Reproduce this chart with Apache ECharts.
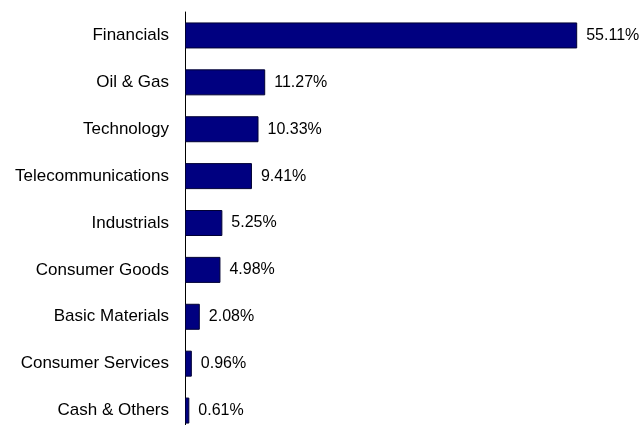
<!DOCTYPE html>
<html><head><meta charset="utf-8">
<script src="https://cdn.jsdelivr.net/npm/echarts@6/dist/echarts.min.js"></script>
<style>html,body{margin:0;padding:0;background:#fff;overflow:hidden;width:641px;height:425px}#c{width:641px;height:440px}</style>
</head><body><div id="c"></div>
<script>
const categories = ["Financials","Oil & Gas","Technology","Telecommunications","Industrials","Consumer Goods","Basic Materials","Consumer Services","Cash & Others"];
const values = [55.11,11.27,10.33,9.41,5.25,4.98,2.08,0.96,0.61];

const chart = echarts.init(document.getElementById('c'));
chart.setOption({
  animation:false,
  grid:{left:185,top:12,width:427,height:422},
  xAxis:{type:'value',min:0,max:60,show:false},
  yAxis:{type:'category',inverse:true,data:categories,
    axisLine:{show:true,lineStyle:{color:'#000',width:1}},
    axisTick:{show:false},
    axisLabel:{color:'#000',fontFamily:'Liberation Sans, Arial, sans-serif',fontSize:17,margin:16}},
  series:[{type:'bar',data:values,barWidth:26,
    itemStyle:{color:'#000080',borderColor:'#000033',borderWidth:1},
    label:{show:true,position:'right',distance:9,color:'#000',fontFamily:'Liberation Sans, Arial, sans-serif',fontSize:16,
      formatter:p=>p.value.toFixed(2)+'%'}}]
});
</script></body></html>
